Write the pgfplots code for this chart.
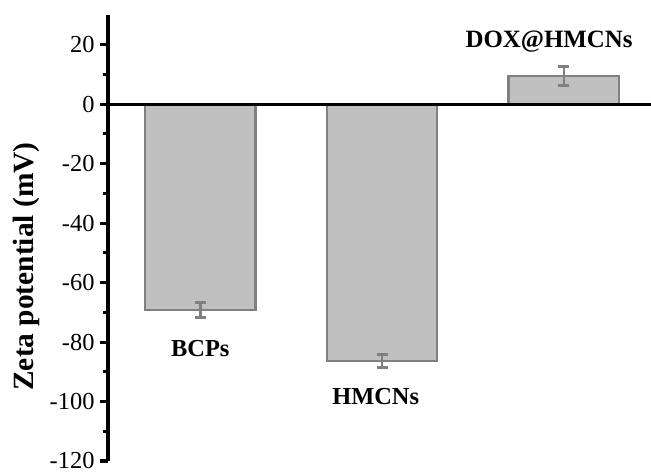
\documentclass[border=0pt]{standalone}
\usepackage{pgfplots}
\pgfplotsset{compat=1.18}
\usepackage{fontspec}
\setmainfont{Liberation Serif}
\definecolor{barfill}{HTML}{C0C0C0}
\definecolor{baredge}{HTML}{808080}

\begin{document}
\begin{tikzpicture}[x=1bp,y=1bp]
\begin{axis}[
  at={(108bp,12bp)}, anchor=south west,
  scale only axis, width=543bp, height=446bp,
  xmin=-0.508, xmax=2.48,
  ymin=-120, ymax=30,
  axis y line=left, axis x line=none,
  axis line style={-, line width=3bp},
  xtick=\empty,
  ytick={-120,-100,-80,-60,-40,-20,0,20},
  minor y tick num=1,
  tick align=outside,
  major tick length=8bp, minor tick length=5bp,
  major tick style={black, line width=3bp},
  minor tick style={black, line width=3bp},
  tick label style={font=\fontsize{24.5}{29}\selectfont},
  yticklabel style={xshift=-2bp},
  /pgf/number format/assume math mode=true,
  ylabel={\textbf{Zeta potential (mV)}},
  ylabel style={font=\fontsize{29.5}{34}\selectfont, at={(axis description cs:-0.151,0.436)}, anchor=center},
  clip=false,
]
% bars with standard deviations
\addplot[ybar, bar width=0.608, fill=barfill, draw=baredge, line width=2.2bp,
  error bars/.cd, y dir=both, y explicit,
  error bar style={baredge, line width=2.5bp},
  error mark options={baredge, rotate=90, mark size=5.5bp, line width=3bp}]
  coordinates {(0,-69.2) +- (0,2.5) (1,-86.5) +- (0,2.2) (2,9.5) +- (0,3.3)};
% zero line
\addplot[black, line width=3bp, sharp plot, forget plot] coordinates {(-0.508,0) (2.48,0)};
% sample names
\node[anchor=base, font=\fontsize{24.5}{29}\selectfont\bfseries] at (axis cs:0,-84.8) {BCPs};
\node[anchor=base, font=\fontsize{24.5}{29}\selectfont\bfseries] at (axis cs:0.965,-101.1) {HMCNs};
\node[anchor=base, font=\fontsize{25}{29}\selectfont\bfseries] at (axis cs:1.919,19.1) {DOX@HMCNs};
\end{axis}
\pgfresetboundingbox
\useasboundingbox (0,0) rectangle (651bp,473bp);
\end{tikzpicture}
\end{document}
